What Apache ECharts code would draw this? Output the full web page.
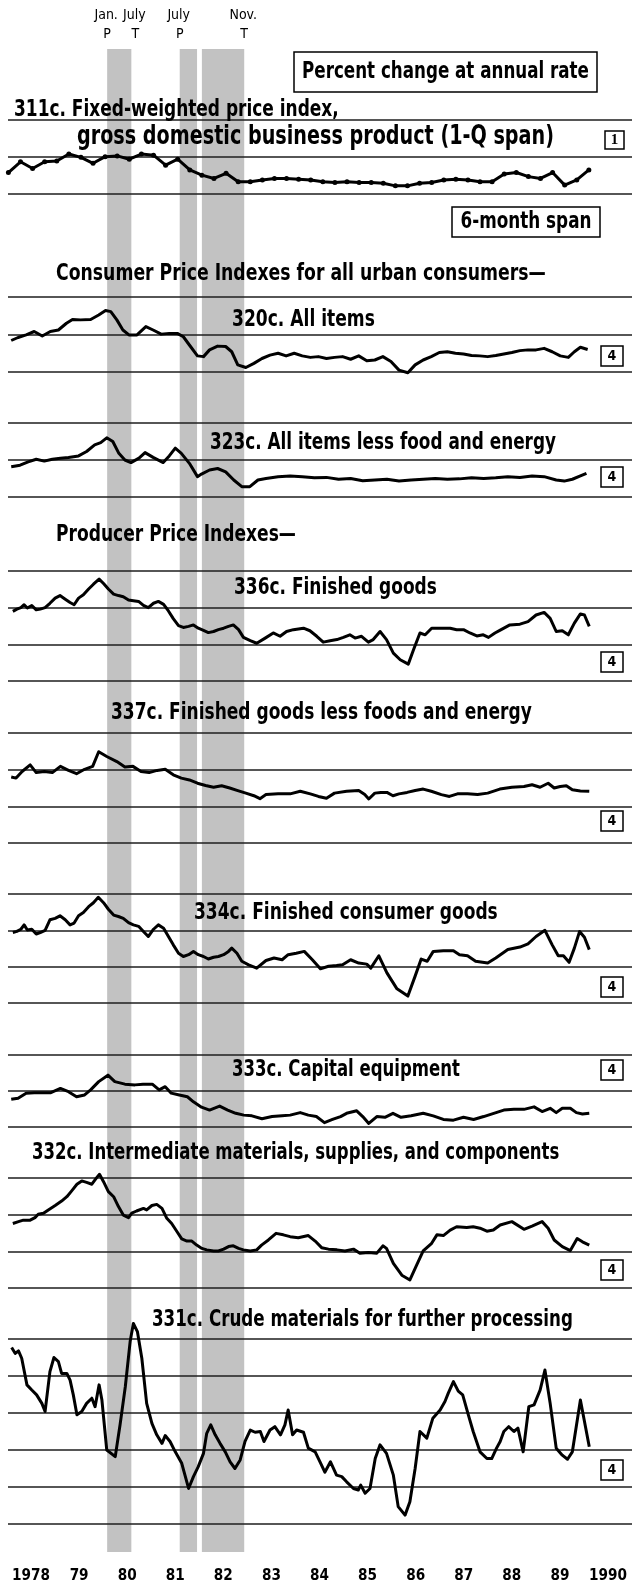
<!DOCTYPE html>
<html><head><meta charset="utf-8">
<script src="https://cdn.jsdelivr.net/npm/echarts@6/dist/echarts.min.js"></script>
<style>html,body{margin:0;padding:0;background:#fff}#c{width:632px;height:1585px}</style>
</head><body><div id="c"></div><script>
// x values: months since Jan 1978 (0 = start of Jan 1978)
const years = ['1978','79','80','81','82','83','84','85','86','87','88','89','1990'];
const recessionBands = [[24,30],[42,46.3],[47.5,58]];
const recessionLabels = [['Jan.','P',24],['July','T',30],['July','P',42],['Nov.','T',58]];

// 311c quarterly (1-Q span), Q4 1977 .. Q4 1989
const s311 = [5.8,8.7,6.9,8.7,8.9,10.8,9.9,8.3,10.1,10.3,9.4,10.8,10.5,7.8,9.4,6.5,5.1,4.2,5.6,3.3,3.3,3.8,4.2,4.2,4.0,3.8,3.3,3.1,3.3,3.1,3.1,2.9,2.2,2.2,2.9,3.1,3.8,4.0,3.8,3.3,3.3,5.4,5.8,4.7,4.2,5.8,2.4,3.8,6.5];

const s320 = [[0.2,8.4],[1.9,9.2],[3.9,9.9],[5.9,10.8],[7.9,9.6],[9.9,10.8],[11.9,11.2],[13.9,13.0],[15.4,14.0],[17.4,13.9],[19.9,14.0],[21.9,15.2],[23.6,16.4],[24.9,16.1],[26.4,13.9],[27.9,11.2],[29.4,9.9],[31.4,9.9],[33.6,12.1],[35.4,11.2],[37.4,10.1],[39.4,10.3],[41.4,10.3],[42.9,9.4],[44.4,7.2],[46.4,4.3],[47.9,4.1],[49.4,5.9],[51.4,6.9],[53.4,6.8],[54.9,5.4],[56.4,1.9],[58.4,1.2],[60.4,2.3],[62.4,3.6],[64.4,4.5],[66.4,5.0],[68.4,4.3],[70.4,5.0],[72.4,4.3],[74.4,3.9],[76.4,4.1],[78.4,3.6],[80.4,3.9],[82.4,4.1],[84.4,3.4],[86.4,4.3],[88.4,3.0],[90.4,3.2],[92.4,4.1],[94.4,2.8],[96.4,0.5],[98.6,-0.2],[100.4,1.9],[102.4,3.2],[104.4,4.1],[106.4,5.2],[108.4,5.4],[110.4,5.0],[112.4,4.8],[114.4,4.4],[116.4,4.3],[118.4,4.1],[120.4,4.4],[122.4,4.8],[124.4,5.2],[126.4,5.7],[128.4,5.9],[130.4,5.9],[132.4,6.3],[134.4,5.4],[136.4,4.3],[138.4,3.9],[139.9,5.4],[141.4,6.6],[143.2,6.0]];

const s323 = [[0.2,8.2],[2.4,8.6],[4.4,9.5],[6.4,10.2],[8.4,9.7],[10.4,10.2],[12.4,10.5],[14.4,10.7],[16.9,11.1],[18.9,12.3],[20.9,14.1],[22.4,14.7],[23.9,16.0],[25.4,15.0],[26.9,11.8],[28.4,10.0],[29.9,9.3],[31.9,10.5],[33.4,12.0],[35.4,10.7],[37.9,9.3],[39.4,11.1],[40.9,13.2],[42.4,11.8],[44.4,9.1],[46.4,5.5],[47.4,6.2],[49.4,7.3],[51.4,7.7],[53.4,6.8],[55.4,4.6],[57.4,2.8],[59.4,2.8],[61.4,4.6],[63.4,5.0],[66.4,5.5],[69.4,5.7],[72.4,5.5],[75.4,5.2],[78.4,5.3],[81.4,4.8],[84.4,5.0],[87.4,4.4],[90.4,4.6],[93.4,4.8],[96.4,4.3],[99.4,4.6],[102.4,4.8],[105.4,5.0],[108.4,4.8],[111.4,4.9],[114.4,5.2],[117.4,5.0],[120.4,5.2],[123.4,5.5],[126.4,5.3],[129.4,5.7],[132.4,5.5],[135.4,4.6],[137.4,4.3],[139.4,4.8],[141.4,5.7],[142.9,6.4]];

const s336 = [[0.6,9.0],[1.6,9.6],[2.6,10.0],[3.4,10.8],[4.2,9.9],[5.3,10.6],[6.4,9.4],[7.4,9.6],[8.6,10.0],[9.8,11.2],[11.1,12.6],[12.3,13.3],[13.6,12.3],[14.8,11.4],[15.8,10.8],[16.9,12.6],[18.1,13.5],[19.4,15.1],[20.6,16.4],[22.0,17.8],[23.1,16.6],[24.3,15.1],[25.6,13.7],[26.8,13.3],[28.0,13.0],[29.3,12.1],[30.5,11.9],[31.8,11.7],[33.0,10.6],[34.2,10.0],[35.5,11.2],[36.7,11.7],[38.0,10.9],[39.2,9.1],[40.4,7.0],[41.7,5.1],[42.9,4.6],[44.2,4.9],[45.4,5.3],[46.6,4.4],[47.9,3.8],[49.1,3.2],[50.4,3.5],[51.6,4.0],[52.9,4.4],[54.1,4.9],[55.3,5.3],[56.6,4.0],[57.8,1.9],[59.5,1.0],[61.1,0.3],[63.2,1.7],[65.2,3.1],[66.9,2.2],[68.5,3.5],[70.2,4.0],[72.7,4.4],[74.3,3.7],[76.0,2.2],[77.6,0.6],[79.3,1.0],[81.0,1.3],[82.6,1.9],[84.2,2.6],[85.5,1.7],[87.1,2.2],[88.8,0.6],[90.0,1.3],[91.7,3.5],[93.3,1.3],[95.0,-2.4],[96.7,-4.2],[98.7,-5.4],[100.0,-1.5],[101.6,3.1],[102.9,2.6],[104.5,4.4],[106.6,4.4],[109.1,4.4],[110.7,4.0],[112.4,4.0],[114.0,3.1],[115.7,2.3],[117.3,2.6],[118.6,1.9],[120.2,3.1],[121.4,3.8],[123.9,5.3],[126.4,5.5],[128.4,6.2],[130.4,8.0],[132.4,8.7],[133.9,7.1],[135.4,3.5],[136.9,3.7],[138.4,2.6],[139.9,5.8],[141.4,8.3],[142.4,8.0],[143.6,4.9]];

const s337 = [[0.2,8.0],[1.4,7.7],[2.9,9.5],[4.9,11.3],[6.4,9.2],[8.4,9.5],[10.4,9.2],[12.4,10.9],[14.4,9.8],[16.4,8.9],[18.4,10.1],[20.4,10.9],[21.9,14.9],[23.9,13.6],[26.4,12.2],[28.4,10.7],[30.4,10.9],[32.4,9.5],[34.4,9.2],[36.4,9.8],[38.4,10.1],[40.4,8.6],[42.4,7.7],[44.4,7.2],[46.4,6.3],[48.4,5.7],[50.4,5.2],[52.4,5.6],[54.4,5.0],[56.4,4.3],[58.4,3.6],[60.4,2.9],[61.9,2.1],[63.4,3.2],[66.4,3.4],[69.4,3.4],[71.9,4.1],[74.4,3.4],[76.4,2.7],[78.4,2.2],[80.4,3.6],[83.4,4.1],[86.4,4.3],[87.9,3.2],[88.9,2.0],[90.4,3.6],[91.9,3.8],[93.4,3.8],[94.9,2.9],[96.4,3.4],[98.4,3.8],[100.4,4.3],[102.4,4.7],[104.4,4.1],[106.9,3.2],[108.9,2.7],[110.9,3.4],[113.4,3.4],[115.9,3.2],[118.4,3.6],[121.4,4.7],[124.4,5.2],[127.4,5.4],[129.4,5.9],[131.4,5.2],[133.4,6.3],[134.9,5.0],[136.4,5.4],[137.9,5.6],[139.4,4.5],[141.4,4.2],[143.6,4.1]];

const s334 = [[0.6,9.4],[1.6,9.7],[2.6,10.3],[3.4,11.5],[4.2,10.1],[5.3,10.3],[6.4,9.0],[7.4,9.4],[8.6,10.0],[9.8,12.9],[11.1,13.3],[12.3,14.0],[13.6,12.9],[14.8,11.5],[15.8,12.0],[16.9,14.0],[18.1,14.9],[19.4,16.5],[20.6,17.6],[21.8,19.1],[23.1,17.6],[24.3,15.8],[25.6,14.2],[26.8,13.8],[28.0,13.3],[29.3,12.1],[30.5,11.5],[31.8,11.1],[33.0,9.7],[34.2,8.3],[35.5,10.3],[36.7,11.5],[38.0,10.6],[39.2,8.3],[40.4,6.0],[41.7,3.7],[42.9,2.8],[44.2,3.3],[45.4,4.2],[46.6,3.3],[47.9,2.8],[49.1,2.1],[50.4,2.6],[51.6,2.8],[52.9,3.3],[54.1,4.2],[54.9,5.1],[56.2,3.7],[57.4,1.5],[59.1,0.5],[61.1,-0.4],[63.4,1.7],[65.4,2.4],[67.4,1.9],[68.9,3.3],[70.9,3.7],[72.9,4.2],[74.9,1.9],[76.9,-0.6],[78.9,0.1],[80.9,0.3],[82.4,0.5],[84.4,1.9],[86.4,1.0],[88.4,0.7],[89.4,-0.4],[91.4,3.0],[93.4,-1.7],[95.9,-6.1],[98.6,-8.1],[100.4,-2.6],[101.9,2.1],[103.4,1.5],[104.9,4.2],[107.4,4.4],[109.9,4.4],[111.4,3.3],[113.4,3.0],[115.4,1.5],[118.4,1.0],[120.4,2.4],[123.4,4.7],[126.4,5.4],[128.4,6.3],[130.4,8.3],[132.6,10.0],[134.4,6.0],[135.9,3.0],[137.2,3.0],[138.6,1.2],[139.9,5.1],[141.2,9.7],[142.4,8.1],[143.6,4.7]];

const s333 = [[0.2,7.7],[1.9,8.0],[3.9,9.4],[5.9,9.5],[7.9,9.5],[9.9,9.5],[12.4,10.7],[14.4,9.8],[16.4,8.4],[18.4,8.9],[19.9,10.3],[21.9,12.6],[24.2,14.4],[25.9,12.6],[28.4,11.9],[30.9,11.7],[32.9,11.9],[35.2,11.9],[36.9,10.3],[38.4,11.2],[39.9,9.4],[41.9,8.9],[43.9,8.4],[45.4,7.0],[47.4,5.5],[49.4,4.7],[51.9,5.8],[53.9,4.7],[55.9,3.8],[57.9,3.3],[59.9,3.1],[62.4,2.3],[64.9,2.9],[67.4,3.1],[69.4,3.3],[71.9,4.0],[73.9,3.3],[75.9,2.9],[77.9,1.2],[79.9,2.1],[81.9,2.9],[83.4,3.8],[85.9,4.5],[87.4,2.9],[88.9,1.0],[90.9,2.9],[92.9,2.7],[94.9,3.8],[96.9,2.7],[99.4,3.1],[102.4,3.8],[104.9,3.1],[107.4,2.1],[109.9,1.9],[112.4,2.7],[114.9,2.1],[117.4,2.9],[119.9,3.8],[122.4,4.7],[124.9,4.9],[127.4,4.9],[129.9,5.6],[131.9,4.3],[133.9,5.2],[135.4,4.0],[136.9,5.2],[138.9,5.2],[140.4,4.0],[141.9,3.6],[143.6,3.8]];

const s332 = [[0.6,7.6],[2.0,8.1],[3.2,8.5],[4.9,8.5],[6.1,9.2],[6.9,10.1],[8.2,10.4],[9.4,11.3],[11.1,12.5],[12.7,13.7],[14.0,14.9],[15.2,16.5],[16.5,18.3],[17.7,19.2],[18.9,18.8],[20.2,18.3],[21.4,20.1],[22.1,21.0],[23.1,19.0],[24.3,16.3],[25.6,14.9],[26.8,12.2],[28.0,9.9],[29.3,9.2],[30.1,10.4],[31.3,11.0],[33.0,11.7],[33.8,11.3],[35.1,12.5],[36.3,12.8],[37.6,11.7],[38.8,9.0],[40.0,7.6],[41.3,5.4],[42.5,3.4],[43.8,2.8],[45.0,2.8],[46.2,1.7],[47.5,0.8],[48.7,0.4],[50.4,0.1],[51.6,0.1],[52.9,0.6],[54.1,1.3],[55.3,1.5],[56.6,0.8],[57.8,0.4],[59.5,0.1],[61.1,0.4],[62.3,1.7],[64.0,3.1],[65.9,4.9],[67.7,4.5],[69.4,4.0],[71.4,3.7],[73.9,4.3],[75.6,2.8],[77.2,1.0],[78.9,0.6],[81.0,0.4],[83.0,0.1],[85.1,0.6],[86.7,-0.5],[88.8,-0.3],[90.9,-0.5],[92.4,1.5],[93.3,0.8],[95.0,-3.3],[97.1,-6.5],[99.1,-7.8],[100.8,-3.7],[102.4,0.1],[104.5,2.2],[105.8,4.5],[107.4,4.3],[109.1,5.8],[110.7,6.7],[113.2,6.5],[114.8,6.7],[116.5,6.3],[118.2,5.5],[119.8,5.8],[121.5,7.2],[124.4,8.1],[127.4,6.0],[129.4,6.9],[131.9,8.1],[133.4,6.3],[134.9,3.1],[136.9,1.3],[138.9,0.2],[140.6,3.5],[141.9,2.6],[143.6,1.7]];

const s331 = [[0.3,17.7],[1.2,16.1],[2.0,16.8],[2.8,14.8],[4.1,7.6],[5.3,6.2],[6.5,4.9],[7.8,2.6],[8.6,0.4],[9.8,11.2],[10.8,15.0],[11.9,13.9],[12.7,10.7],[14.0,10.7],[14.8,8.9],[15.6,4.9],[16.5,-0.5],[17.7,0.4],[18.9,2.6],[20.2,4.0],[21.0,1.7],[22.0,7.6],[22.7,3.5],[23.9,-10.0],[26.0,-11.8],[27.2,-3.2],[28.5,7.1],[29.7,19.3],[30.5,24.2],[31.5,22.0],[32.6,14.8],[33.8,2.6],[35.1,-2.8],[36.3,-5.9],[37.6,-8.2],[38.4,-6.1],[39.6,-7.7],[40.9,-10.5],[42.5,-13.6],[44.2,-20.4],[45.4,-17.2],[46.6,-14.5],[47.9,-10.9],[48.7,-5.5],[49.7,-3.2],[50.8,-5.9],[52.0,-8.2],[53.3,-10.5],[54.5,-13.2],[55.7,-15.0],[57.0,-12.7],[58.2,-7.7],[59.5,-4.6],[60.7,-5.2],[62.0,-5.0],[62.9,-7.7],[64.4,-4.6],[65.6,-3.7],[67.0,-5.9],[68.1,-3.2],[68.9,0.8],[70.0,-5.9],[71.0,-4.6],[72.7,-5.2],[73.9,-9.5],[75.6,-10.5],[76.8,-13.2],[78.0,-16.0],[79.4,-13.2],[80.9,-16.8],[82.2,-17.2],[83.4,-18.6],[85.1,-20.4],[86.3,-20.8],[86.9,-19.5],[88.0,-21.7],[89.2,-20.4],[90.5,-12.3],[91.7,-8.6],[93.3,-10.9],[95.0,-16.8],[96.2,-25.3],[97.9,-27.6],[99.1,-24.0],[100.4,-15.0],[101.6,-5.0],[103.3,-6.8],[104.8,-1.4],[106.6,0.8],[107.8,3.1],[108.6,5.3],[109.9,8.5],[111.1,5.9],[112.2,4.9],[113.6,-0.5],[114.8,-5.0],[116.5,-10.5],[118.2,-12.3],[119.4,-12.3],[120.6,-9.5],[121.5,-7.7],[122.4,-5.0],[123.6,-3.7],[124.9,-5.0],[125.9,-4.1],[127.2,-10.5],[128.6,1.7],[129.9,2.2],[131.4,6.2],[132.6,11.6],[133.9,2.6],[135.4,-9.5],[136.9,-11.4],[138.2,-12.5],[139.4,-10.5],[141.4,3.5],[143.6,-9.1]];

const FONT = "'Liberation Sans Narrow','DejaVu Sans Condensed','Arial Narrow',sans-serif";
const mctx = document.createElement('canvas').getContext('2d');
function fit(text, weight, target, family){
  const base = 40; mctx.font = weight + ' ' + base + 'px ' + (family||FONT);
  return base * target / mctx.measureText(text).width;
}
const X_MIN = -0.6, X_MAX = 154.2;

const panels = [
  {top:120, bottom:194, min:0, max:20, data:s311.map((v,i)=>[3*i-0.5, v]), dots:true},
  {top:297, bottom:372, min:0, max:20, data:s320},
  {top:423, bottom:497, min:0, max:20, data:s323},
  {top:571, bottom:681, min:-10, max:20, data:s336},
  {top:733, bottom:843, min:-10, max:20, data:s337},
  {top:894, bottom:1003, min:-10, max:20, data:s334},
  {top:1055, bottom:1127, min:0, max:20, data:s333},
  {top:1178, bottom:1288, min:-10, max:20, data:s332},
  {top:1339, bottom:1524, min:-30, max:20, data:s331}
];

const grids = [], xAxes = [], yAxes = [], series = [];
panels.forEach((p,i)=>{
  grids.push({left:8, right:0, top:p.top, height:p.bottom-p.top, outerBoundsMode:'none', containLabel:false});
  xAxes.push({gridIndex:i, type:'value', min:X_MIN, max:X_MAX, show:false});
  yAxes.push({gridIndex:i, type:'value', min:p.min, max:p.max, interval:10, z:3,
    axisLine:{show:false}, axisTick:{show:false}, axisLabel:{show:false},
    splitLine:{show:true, showMinLine:true, showMaxLine:true, lineStyle:{color:'#1e1e1e', width:1.5}}});
  series.push({type:'line', xAxisIndex:i, yAxisIndex:i, data:p.data, clip:false, z:10, silent:true,
    showSymbol:!!p.dots, symbol:'circle', symbolSize:5, itemStyle:{color:'#000'},
    lineStyle:{color:'#000', width:3, join:'round'}, animation:false});
});
// recession shading grid
const bi = panels.length;
grids.push({left:8, right:0, top:49, height:1503, outerBoundsMode:'none', containLabel:false});
xAxes.push({gridIndex:bi, type:'value', min:X_MIN, max:X_MAX, show:false});
yAxes.push({gridIndex:bi, type:'value', min:0, max:1, show:false});
series.push({type:'line', xAxisIndex:bi, yAxisIndex:bi, data:[], z:1, silent:true, animation:false,
  markArea:{silent:true, itemStyle:{color:'#c2c2c2'}, data:recessionBands.map(b=>[{xAxis:b[0]},{xAxis:b[1]}])}});
// year label grid
const yi = bi + 1;
grids.push({left:7, right:0, top:1560, height:1, outerBoundsMode:'none', containLabel:false});
xAxes.push({gridIndex:yi, type:'category', data:years, boundaryGap:true, position:'bottom',
  axisLine:{show:false}, axisTick:{show:false},
  axisLabel:{show:true, interval:0, margin:8, color:'#000', fontFamily:FONT, fontWeight:'bold', fontSize:fit('1978','bold',38)}});
yAxes.push({gridIndex:yi, type:'value', show:false});

// text and boxes
const g = [];
function put(text, x, y, font, align, sy){
  g.push({type:'text', z:100, x:x, y:y, scaleY:sy||1, style:{text:text, x:0, y:0, font:font, fill:'#000',
    align:align||'left', verticalAlign:'middle', textAlign:align||'left', textVerticalAlign:'middle'}});
}
function txt(text, x, y, target, weight, align, family){
  const fs = fit(text, weight, target, family);
  put(text, x, y, weight + ' ' + fs.toFixed(2) + 'px ' + (family||FONT), align, 1.22);
}
function box(x, y, w, h){
  g.push({type:'rect', z:90, shape:{x:x, y:y, width:w, height:h}, style:{fill:'#fff', stroke:'#000', lineWidth:1.5}});
}
const lx = t => 8 + (t - X_MIN) / (X_MAX - X_MIN) * 624;
recessionLabels.forEach((r,k)=>{
  const x = lx(r[2]) + (k===1 ? 4 : 0);
  put(r[0], x - 1, 15, 'normal 14px ' + FONT, 'center');
  put(r[1], x, 34, 'normal 14px ' + FONT, 'center');
});
box(294, 52, 303, 40); txt('Percent change at annual rate', 445.5, 72, 287, 'bold', 'center');
txt('311c. Fixed-weighted price index,', 14, 110, 325, 'bold');
txt('gross domestic business product (1-Q span)', 77, 137, 477, 'bold');
box(605, 131, 19, 18); put('1', 614.5, 140.5, "bold 15px 'Liberation Serif',serif", 'center');
box(452, 207, 148, 30); txt('6-month span', 526, 222, 131, 'bold', 'center');
txt('Consumer Price Indexes for all urban consumers\u2014', 56, 274, 490, 'bold');
txt('320c. All items', 232, 320, 143, 'bold');
txt('323c. All items less food and energy', 210, 443, 346, 'bold');
txt('Producer Price Indexes\u2014', 56, 535, 240, 'bold');
txt('336c. Finished goods', 234, 588, 203, 'bold');
txt('337c. Finished goods less foods and energy', 111, 713, 421, 'bold');
txt('334c. Finished consumer goods', 194, 913, 304, 'bold');
txt('333c. Capital equipment', 232, 1070, 228, 'bold');
txt('332c. Intermediate materials, supplies, and components', 32, 1153, 528, 'bold');
txt('331c. Crude materials for further processing', 152, 1320, 421, 'bold');
[356, 477, 662, 821, 987, 1070, 1270, 1470].forEach(cy=>{
  box(601, cy-10, 22, 20);
  put('4', 612, cy+0.5, 'bold 14px ' + FONT, 'center');
});

const chart = echarts.init(document.getElementById('c'), null, {renderer:'canvas'});
chart.setOption({
  animation:false, backgroundColor:'#fff',
  grid:grids, xAxis:xAxes, yAxis:yAxes, series:series, graphic:{elements:g}
});
</script></body></html>
